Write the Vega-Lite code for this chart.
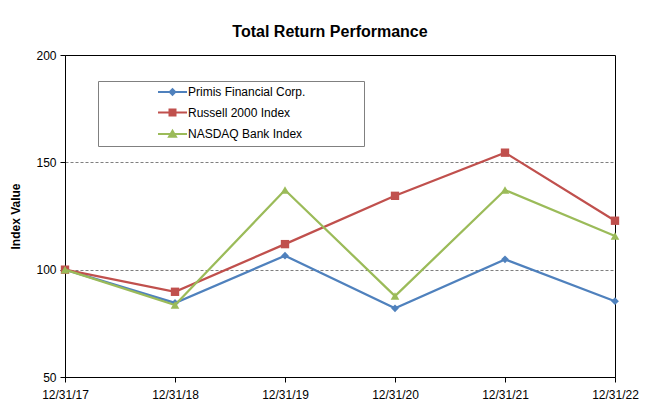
{
  "$schema": "https://vega.github.io/schema/vega-lite/v6.json",
  "width": 550,
  "height": 322,
  "autosize": "none",
  "padding": {"left": 65, "top": 55, "right": 33, "bottom": 34},
  "background": "white",
  "title": {
    "text": "Total Return Performance",
    "font": "Liberation Sans",
    "fontSize": 16,
    "fontWeight": "bold",
    "color": "black",
    "anchor": "middle",
    "frame": "group",
    "dx": -10,
    "offset": 9
  },
  "data": {
    "values": [
      {"date": "12/31/17", "series": "Primis Financial Corp.", "value": 100},
      {"date": "12/31/18", "series": "Primis Financial Corp.", "value": 84.5},
      {"date": "12/31/19", "series": "Primis Financial Corp.", "value": 106.5},
      {"date": "12/31/20", "series": "Primis Financial Corp.", "value": 82},
      {"date": "12/31/21", "series": "Primis Financial Corp.", "value": 104.8},
      {"date": "12/31/22", "series": "Primis Financial Corp.", "value": 85.3},
      {"date": "12/31/17", "series": "Russell 2000 Index", "value": 100},
      {"date": "12/31/18", "series": "Russell 2000 Index", "value": 89.7},
      {"date": "12/31/19", "series": "Russell 2000 Index", "value": 111.9},
      {"date": "12/31/20", "series": "Russell 2000 Index", "value": 134.4},
      {"date": "12/31/21", "series": "Russell 2000 Index", "value": 154.5},
      {"date": "12/31/22", "series": "Russell 2000 Index", "value": 122.8},
      {"date": "12/31/17", "series": "NASDAQ Bank Index", "value": 100},
      {"date": "12/31/18", "series": "NASDAQ Bank Index", "value": 83.5},
      {"date": "12/31/19", "series": "NASDAQ Bank Index", "value": 137.1},
      {"date": "12/31/20", "series": "NASDAQ Bank Index", "value": 87.7},
      {"date": "12/31/21", "series": "NASDAQ Bank Index", "value": 137.1},
      {"date": "12/31/22", "series": "NASDAQ Bank Index", "value": 115.7}
    ]
  },
  "encoding": {
    "x": {
      "field": "date",
      "type": "ordinal",
      "scale": {"type": "point", "padding": 0},
      "sort": null,
      "axis": {
        "title": null,
        "labelAngle": 0,
        "tickSize": 5,
        "labelPadding": 7,
        "grid": false
      }
    },
    "y": {
      "field": "value",
      "type": "quantitative",
      "scale": {"domain": [50, 200], "nice": false, "zero": false},
      "axis": {
        "title": "Index Value",
        "values": [50, 100, 150, 200],
        "tickSize": 5,
        "labelPadding": 4,
        "grid": true,
        "gridDash": [3, 2],
        "gridColor": "#7f7f7f",
        "gridOpacity": {"condition": {"test": "datum.value == 100 || datum.value == 150", "value": 1}, "value": 0},
        "titleFont": "Liberation Sans",
        "titleFontSize": 12,
        "titleFontWeight": "bold",
        "titleX": -50,
        "titleY": 161,
        "titleAngle": -90,
        "titleAlign": "center",
        "titleBaseline": "middle"
      }
    },
    "color": {
      "field": "series",
      "type": "nominal",
      "scale": {
        "domain": ["Primis Financial Corp.", "Russell 2000 Index", "NASDAQ Bank Index"],
        "range": ["#4F81BD", "#C0504D", "#9BBB59"]
      },
      "legend": {
        "title": "\u00a0",
        "titleOrient": "right",
        "titlePadding": 54,
        "orient": "none",
        "legendX": 33,
        "legendY": 26,
        "direction": "vertical",
        "strokeColor": "#808080",
        "fillColor": "white",
        "padding": 5,
        "symbolOffset": 63.5,
        "labelOffset": 9.5,
        "rowPadding": 6.5,
        "labelFont": "Liberation Sans",
        "labelFontSize": 12,
        "labelColor": "black",
        "symbolSize": 100,
        "symbolStrokeWidth": 2,
        "encode": {
          "symbols": {
            "update": {
              "shape": {"signal": "datum.value === 'Primis Financial Corp.' ? 'M-2.9,0H2.9M-0.55,0L0,-0.55L0.55,0L0,0.55Z' : (datum.value === 'Russell 2000 Index' ? 'M-2.9,0H2.9M-0.6,-0.6H0.6V0.6H-0.6Z' : 'M-2.9,0H2.9M0,-0.65L0.7,0.55H-0.7Z')"},
              "size": {"value": 100},
              "strokeWidth": {"value": 2},
              "opacity": {"value": 1}
            }
          }
        }
      }
    }
  },
  "layer": [
    {
      "transform": [{"filter": "datum.series === 'Primis Financial Corp.'"}],
      "layer": [
        {"mark": {"type": "line", "strokeWidth": 2.25}},
        {"mark": {"type": "point", "shape": "diamond", "filled": true, "opacity": 1, "size": 60}}
      ]
    },
    {
      "transform": [{"filter": "datum.series === 'Russell 2000 Index'"}],
      "layer": [
        {"mark": {"type": "line", "strokeWidth": 2.25}},
        {"mark": {"type": "point", "shape": "square", "filled": true, "opacity": 1, "size": 70}}
      ]
    },
    {
      "transform": [{"filter": "datum.series === 'NASDAQ Bank Index'"}],
      "layer": [
        {"mark": {"type": "line", "strokeWidth": 2.25}},
        {"mark": {"type": "point", "shape": "triangle-up", "filled": true, "opacity": 1, "size": 75}}
      ]
    }
  ],
  "config": {
    "font": "Liberation Sans",
    "view": {"stroke": "black", "strokeWidth": 1},
    "axis": {
      "labelFont": "Liberation Sans",
      "labelFontSize": 12,
      "labelColor": "black",
      "domainColor": "black",
      "tickColor": "black",
      "titleColor": "black"
    }
  }
}
